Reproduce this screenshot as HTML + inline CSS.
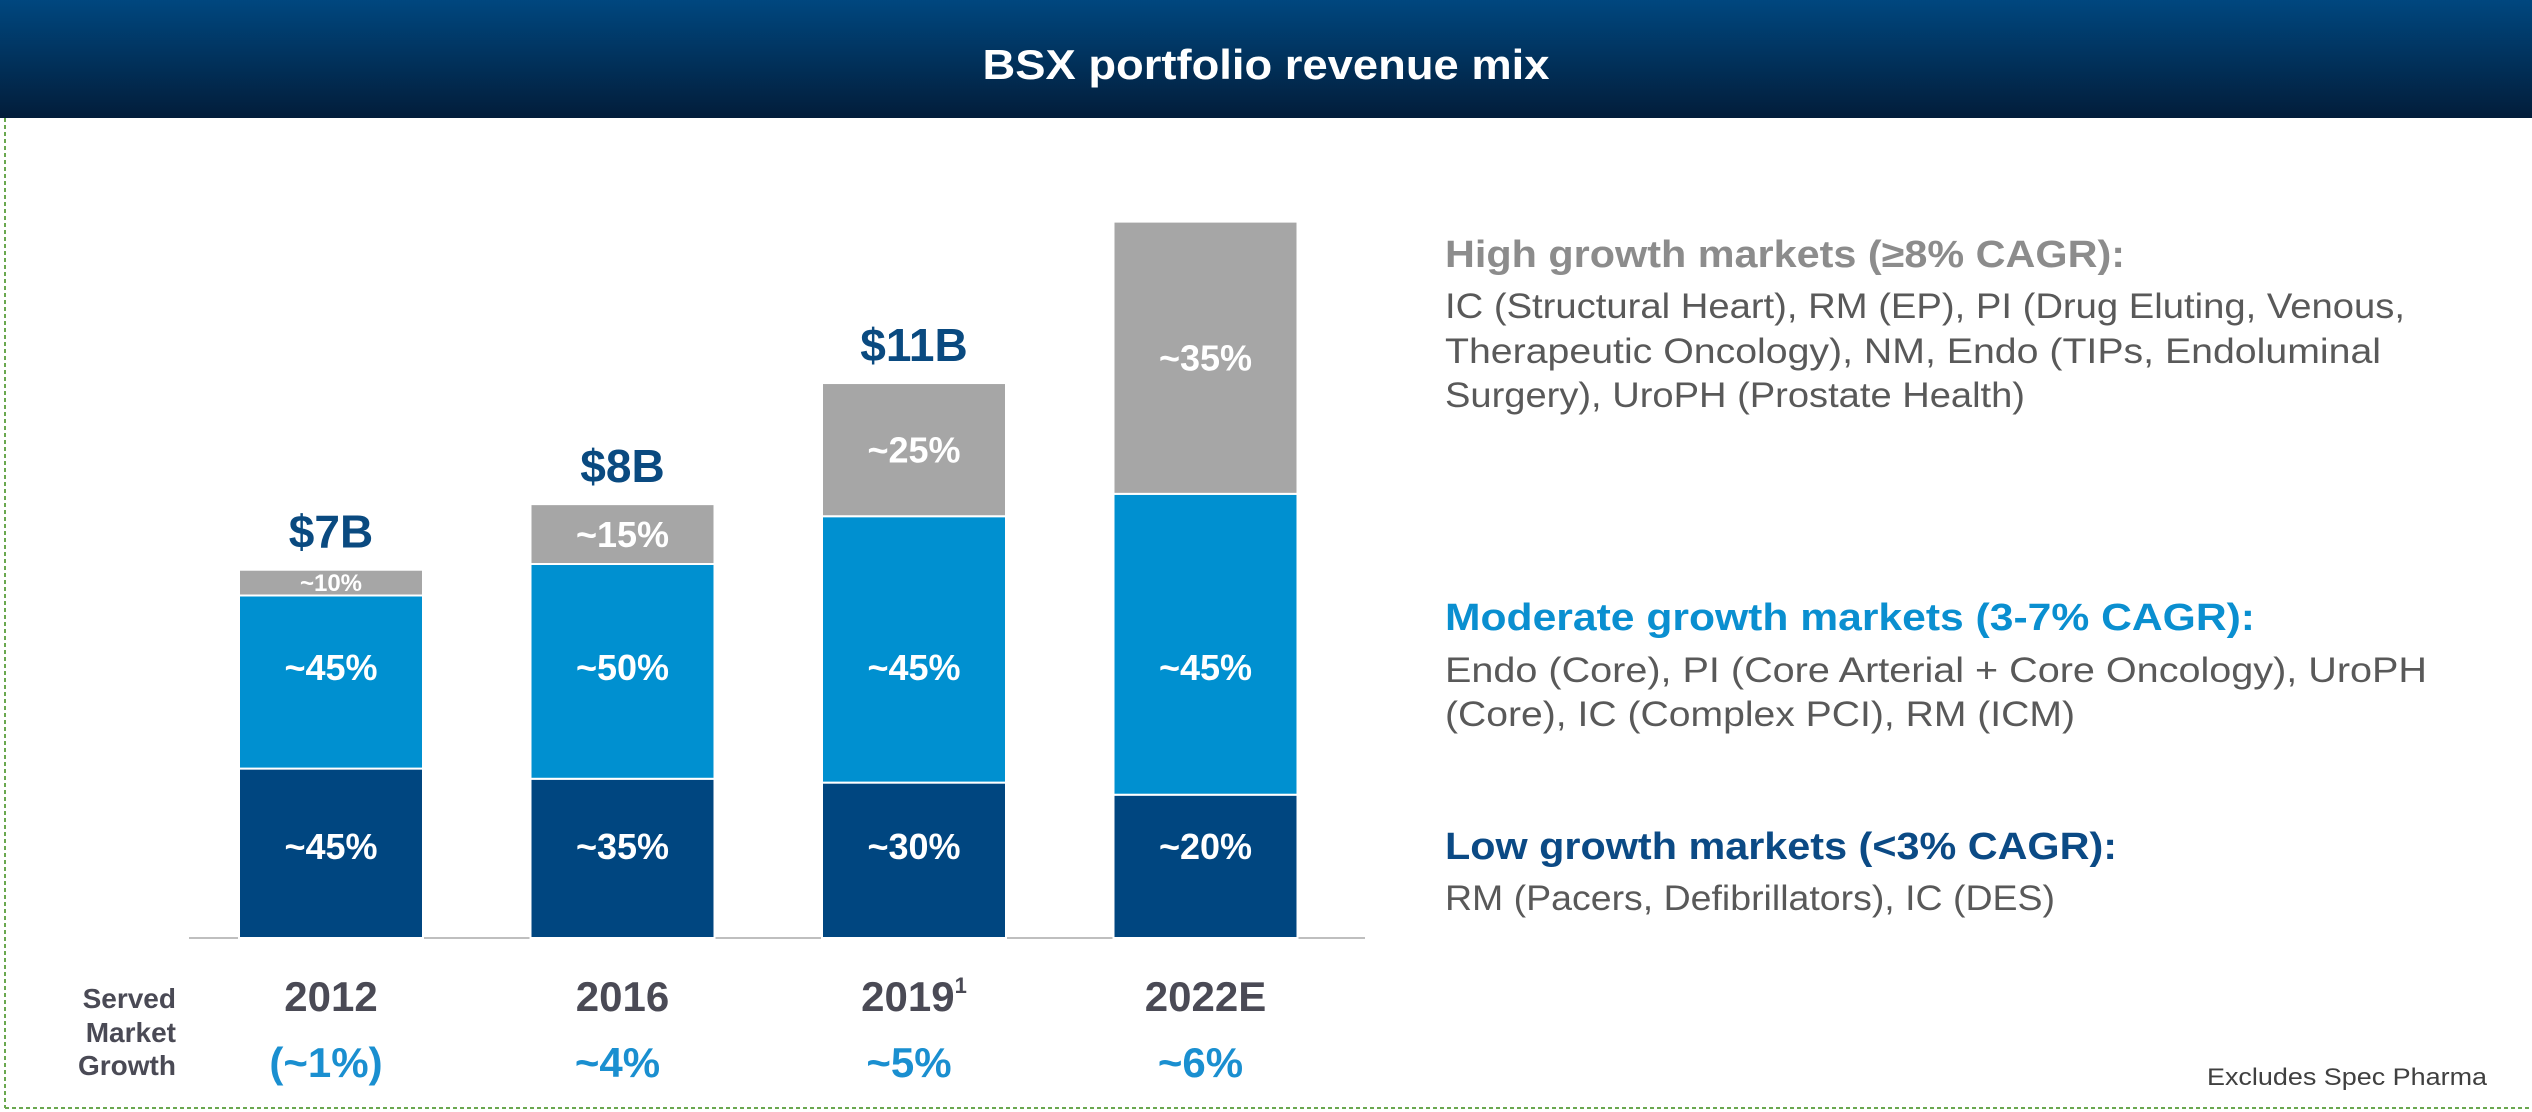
<!DOCTYPE html>
<html><head><meta charset="utf-8"><style>
html,body{margin:0;padding:0;background:#fff;}
svg{display:block;font-family:"Liberation Sans Narrow","Liberation Sans",sans-serif;}
</style></head><body>
<svg id="chart" width="2532" height="1112" viewBox="0 0 2532 1112">
<defs><linearGradient id="hdr" x1="0" y1="0" x2="0" y2="1"><stop offset="0" stop-color="#00477f"/><stop offset="1" stop-color="#021d3a"/></linearGradient></defs>
<rect x="0" y="0" width="2532" height="118" fill="url(#hdr)"/>
<text x="1266" y="79" text-anchor="middle" font-size="42" font-weight="bold" fill="#fff" textLength="567" lengthAdjust="spacingAndGlyphs">BSX portfolio revenue mix</text>
<line x1="5" y1="118" x2="5" y2="1108" stroke="#6aa84f" stroke-width="2" stroke-dasharray="4,3"/>
<line x1="5" y1="1108" x2="2532" y2="1108" stroke="#6aa84f" stroke-width="2" stroke-dasharray="4,3"/>
<line x1="189" y1="938" x2="1365" y2="938" stroke="#bfbfbf" stroke-width="2"/>
<g id="bars"></g>
<text x="176" y="1008" text-anchor="end" font-size="28" font-weight="bold" fill="#4a4a55">Served</text>
<text x="176" y="1042" text-anchor="end" font-size="28" font-weight="bold" fill="#4a4a55">Market</text>
<text x="176" y="1075" text-anchor="end" font-size="28" font-weight="bold" fill="#4a4a55">Growth</text>

<g font-family="Liberation Sans, sans-serif">
<text x="1445" y="267" font-size="38" font-weight="bold" fill="#8c8c8c" textLength="680" lengthAdjust="spacingAndGlyphs">High growth markets (≥8% CAGR):</text>
<text x="1445" y="318" font-size="35" fill="#595959" textLength="960" lengthAdjust="spacingAndGlyphs">IC (Structural Heart), RM (EP), PI (Drug Eluting, Venous,</text>
<text x="1445" y="363" font-size="35" fill="#595959" textLength="936" lengthAdjust="spacingAndGlyphs">Therapeutic Oncology), NM, Endo (TIPs, Endoluminal</text>
<text x="1445" y="407" font-size="35" fill="#595959" textLength="580" lengthAdjust="spacingAndGlyphs">Surgery), UroPH (Prostate Health)</text>
<text x="1445" y="630" font-size="38" font-weight="bold" fill="#0a8fd0" textLength="810" lengthAdjust="spacingAndGlyphs">Moderate growth markets (3-7% CAGR):</text>
<text x="1445" y="682" font-size="35" fill="#595959" textLength="982" lengthAdjust="spacingAndGlyphs">Endo (Core), PI (Core Arterial + Core Oncology), UroPH</text>
<text x="1445" y="726" font-size="35" fill="#595959" textLength="630" lengthAdjust="spacingAndGlyphs">(Core), IC (Complex PCI), RM (ICM)</text>
<text x="1445" y="859" font-size="38" font-weight="bold" fill="#0b4a85" textLength="672" lengthAdjust="spacingAndGlyphs">Low growth markets (&lt;3% CAGR):</text>
<text x="1445" y="910" font-size="35" fill="#595959" textLength="610" lengthAdjust="spacingAndGlyphs">RM (Pacers, Defibrillators), IC (DES)</text>
<text x="2487" y="1085" text-anchor="end" font-size="24" fill="#404040" textLength="280" lengthAdjust="spacingAndGlyphs">Excludes Spec Pharma</text>
</g>
</svg>
<script>
const categories = ["2012", "2016", "2019", "2022E"];
const totals = [7.3, 8.6, 11.0, 14.2];
const totalLabels = ["$7B", "$8B", "$11B", ""];
const lowShare = [0.46, 0.367, 0.28, 0.20];
const modShare = [0.47, 0.495, 0.48, 0.42];
const highShare = [0.07, 0.138, 0.24, 0.38];
const lowLabels = ["~45%", "~35%", "~30%", "~20%"];
const modLabels = ["~45%", "~50%", "~45%", "~45%"];
const highLabels = ["~10%", "~15%", "~25%", "~35%"];
const growthLabels = ["(~1%)", "~4%", "~5%", "~6%"];

const NS = "http://www.w3.org/2000/svg";
const g = document.getElementById("bars");
const baseY = 938, pxPerB = 50.45, barW = 184;
const labelRowY = {low: 846, moderate: 667};
function yScale(v){ return baseY - v * pxPerB; }
function xScale(i){ return 239 + i * 291.5; }
function mk(tag, attrs){ const e = document.createElementNS(NS, tag); for (const k in attrs) e.setAttribute(k, attrs[k]); g.appendChild(e); return e; }

categories.forEach((cat, i) => {
  const x = xScale(i), T = totals[i];
  const segs = [
    {v: lowShare[i], c: "#004680", l: lowLabels[i], n: "low"},
    {v: modShare[i], c: "#0090d0", l: modLabels[i], n: "moderate"},
    {v: highShare[i], c: "#a6a6a6", l: highLabels[i], n: "high"}
  ];
  let cum = 0;
  segs.forEach(s => {
    const y0 = yScale(cum * T), y1 = yScale((cum + s.v) * T);
    const r = mk("rect", {x: x, y: y1, width: barW, height: y0 - y1, fill: s.c, stroke: "#fff", "stroke-width": 2});
    
    
    const h = y0 - y1;
    const fs = h < 40 ? 24 : 36;
    let cy = (y0 + y1) / 2;
    if (labelRowY[s.n] && labelRowY[s.n] > y1 + 20 && labelRowY[s.n] < y0 - 20) cy = labelRowY[s.n];
    const t = mk("text", {x: x + barW/2, y: cy + fs*0.36, "text-anchor": "middle", "font-size": fs, "font-weight": "bold", fill: "#fff"});
    t.textContent = s.l;
    
    
    cum += s.v;
  });
  if (totalLabels[i]) {
    const t = mk("text", {x: x + barW/2, y: yScale(T) - 22, "text-anchor": "middle", "font-size": 46, "font-weight": "bold", fill: "#0a4a80"});
    t.textContent = totalLabels[i];
    
    
  }
  const yl = mk("text", {x: x + barW/2, y: 1011, "text-anchor": "middle", "font-size": 42, "font-weight": "bold", fill: "#4a4a55"});
  yl.textContent = cat;
  if (cat === "2019") {
    const sup = document.createElementNS(NS, "tspan");
    sup.setAttribute("font-size", "22"); sup.setAttribute("dy", "-18"); sup.textContent = "1";
    yl.appendChild(sup);
  }
  
  
  const gl = mk("text", {x: x + barW/2 - 5, y: 1077, "text-anchor": "middle", "font-size": 42, "font-weight": "bold", fill: "#1a8fd0"});
  gl.textContent = growthLabels[i];
  
  
});
</script>
</body></html>
